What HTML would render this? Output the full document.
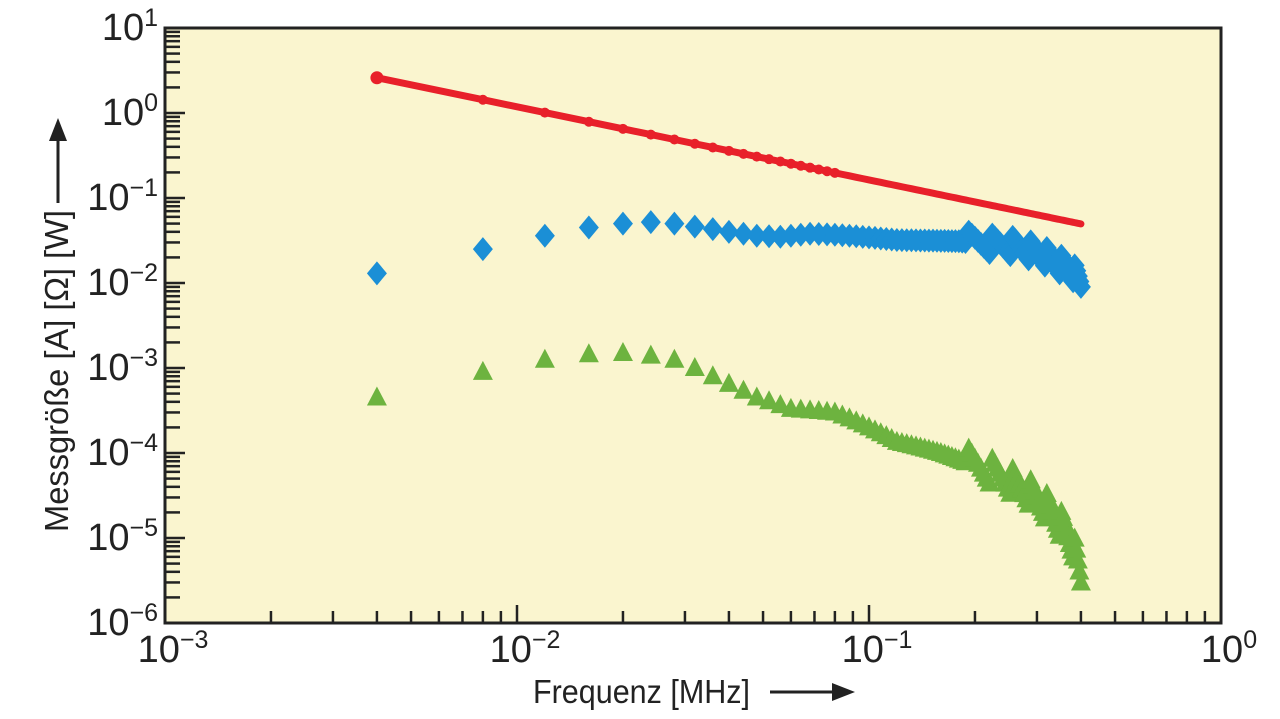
<!DOCTYPE html>
<html><head><meta charset="utf-8"><style>
html,body{margin:0;padding:0;background:#fff;}
svg{display:block;font-family:"Liberation Sans Narrow","Liberation Sans",sans-serif;}
</style></head><body>
<svg id="s" width="1280" height="719" viewBox="0 0 1280 719" xmlns="http://www.w3.org/2000/svg">
<rect x="165" y="28" width="1056" height="595" fill="#faf5cf" stroke="#222" stroke-width="3"/>
<g id="ticks" stroke="#222" stroke-width="2.5"></g>
<g id="data"></g>
<g id="lbl" fill="#222"></g>
<text x="533" y="703" font-size="33" fill="#222" textLength="217" lengthAdjust="spacingAndGlyphs">Frequenz [MHz]</text>
<line x1="770" y1="692" x2="835" y2="692" stroke="#222" stroke-width="3"/>
<polygon points="855,692 832,683 832,701" fill="#222"/>
<text transform="translate(68,532) rotate(-90)" font-size="33" fill="#222" textLength="322" lengthAdjust="spacingAndGlyphs">Messgröße [A] [Ω] [W]</text>
<line x1="58" y1="203" x2="58" y2="140" stroke="#222" stroke-width="3"/>
<polygon points="58,118 49,141 67,141" fill="#222"/>
</svg>
<script>
const L=165,R=1221,T=28,B=623;
const X=f=>L+(Math.log10(f)+3)*(R-L)/3;
const Y=v=>T+(1-Math.log10(v))*(B-T)/7;
const NS="http://www.w3.org/2000/svg";
function el(p,t,a,txt){const e=document.createElementNS(NS,t);for(const k in a)e.setAttribute(k,a[k]);if(txt!==undefined)e.textContent=txt;p.appendChild(e);return e;}
const tk=document.getElementById('ticks'),lb=document.getElementById('lbl'),dt=document.getElementById('data');
for(let d=-3;d<0;d++)for(let m=1;m<10;m++){const x=X(m*Math.pow(10,d));if(m===1&&d===-3)continue;el(tk,'line',{x1:x,x2:x,y1:B,y2:B-(m===1?18:12)});}
for(let d=-6;d<1;d++)for(let m=1;m<10;m++){const y=Y(m*Math.pow(10,d));if(m===1&&d===-6)continue;el(tk,'line',{x1:L,x2:L+(m===1?20:15),y1:y,y2:y});}
for(let d=-6;d<=1;d++){const y=Y(Math.pow(10,d));const t=el(lb,'text',{x:158,y:y+12,'font-size':38,'text-anchor':'end'});
el(t,'tspan',{},'10');el(t,'tspan',{dy:-14,'font-size':25},d<0?'−'+(-d):''+d);}
for(let d=-3;d<=0;d++){const x=X(Math.pow(10,d));const t=el(lb,'text',{x:x+8,y:662,'font-size':38,'text-anchor':'middle'});
el(t,'tspan',{},'10');el(t,'tspan',{dy:-14,'font-size':25},d<0?'−'+(-d):''+d);}
function interp(pts,k){for(let i=0;i<pts.length-1;i++){if(k>=pts[i][0]&&k<=pts[i+1][0]){const a=pts[i],b=pts[i+1];const t=(k-a[0])/(b[0]-a[0]);return Math.pow(10,Math.log10(a[1])+t*(Math.log10(b[1])-Math.log10(a[1])));}}return pts[pts.length-1][1];}
const blue=[[1,.013],[2,.025],[3,.036],[4,.045],[5,.05],[6,.052],[7,.05],[8,.046],[9,.043],[10,.04],[12,.036],[14,.035],[17,.038],[20,.037],[30,.032],[45,.031],[55,.028],[65,.026],[75,.022],[85,.017],[95,.013],[100,.009]];
const green=[[1,4.5e-4],[2,9e-4],[3,1.25e-3],[4,1.45e-3],[5,1.5e-3],[6,1.4e-3],[7,1.25e-3],[8,1e-3],[9,8e-4],[10,6.5e-4],[12,4.5e-4],[15,3.3e-4],[20,3e-4],[25,2e-4],[30,1.35e-4],[40,1e-4],[50,7e-5],[60,5e-5],[70,3.5e-5],[80,2.2e-5],[90,1.2e-5],[95,8e-6],[100,3e-6]];
function jit(k,amp){if(k<48)return 1;const p=((k-48)%8)/8;return Math.pow(10,amp*(0.5-p));}
let pts=[];for(let k=1;k<=100;k++){const f=.004*k;pts.push(X(f)+','+Y(2.6*Math.pow(k,-0.86)));}
el(dt,'polyline',{points:pts.join(' '),fill:'none',stroke:'#e8202a','stroke-width':7,'stroke-linecap':'round'});
for(let k=1;k<=100;k++){const x=X(.004*k);
const y=Y(interp(blue,k)*jit(k,0.25));el(dt,'polygon',{points:`${x},${y-12} ${x+10},${y} ${x},${y+12} ${x-10},${y}`,fill:'#1b8fd6'});
const g=Y(interp(green,k)*jit(k,0.35));el(dt,'polygon',{points:`${x},${g-11} ${x+10},${g+8} ${x-10},${g+8}`,fill:'#6db33f'});
if(k<=20)el(dt,'circle',{cx:X(.004*k),cy:Y(2.6*Math.pow(k,-0.86)),r:k===1?6.5:5,fill:'#e8202a'});}
</script>
</body></html>
